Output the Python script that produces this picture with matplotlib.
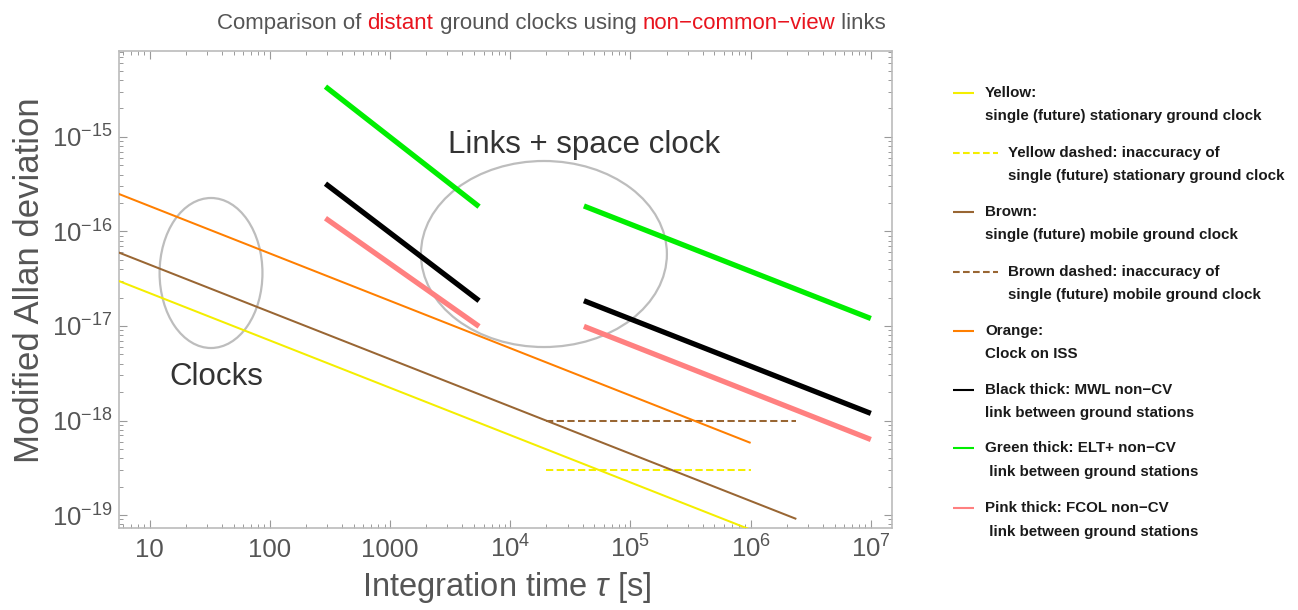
import matplotlib
matplotlib.use("Agg")
import matplotlib.pyplot as plt
from matplotlib.lines import Line2D
from matplotlib.patches import Ellipse
from matplotlib.ticker import LogLocator, FuncFormatter, NullFormatter

plt.rcParams['font.family'] = ['Liberation Sans', 'DejaVu Sans']
plt.rcParams['mathtext.fontset'] = 'custom'
plt.rcParams['mathtext.rm'] = 'Liberation Sans'
plt.rcParams['mathtext.it'] = 'Liberation Sans:italic'
plt.rcParams['mathtext.bf'] = 'Liberation Sans:bold'

# ---------------- data ----------------
tau_yellow = [5.5, 1.0e6]
sigma_yellow = [3.0e-17, 7.0e-20]
tau_yellow_dashed = [2.0e4, 1.0e6]
sigma_yellow_dashed = [3.0e-19, 3.0e-19]
tau_brown = [5.5, 2.4e6]
sigma_brown = [6.0e-17, 9.1e-20]
tau_brown_dashed = [2.0e4, 2.4e6]
sigma_brown_dashed = [1.0e-18, 1.0e-18]
tau_orange = [5.5, 1.0e6]
sigma_orange = [2.5e-16, 5.8e-19]

tau_link_short = [290, 5500]
tau_link_long = [4.1e4, 1.0e7]
sigma_black_short = [3.2e-16, 1.85e-17]
sigma_black_long = [1.85e-17, 1.19e-18]
sigma_green_short = [3.4e-15, 1.83e-16]
sigma_green_long = [1.86e-16, 1.2e-17]
sigma_pink_short = [1.38e-16, 9.9e-18]
sigma_pink_long = [9.9e-18, 6.3e-19]

x_major_ticks = [10, 100, 1000, 1e4, 1e5, 1e6, 1e7]
y_major_ticks = [1e-19, 1e-18, 1e-17, 1e-16, 1e-15]

legend_first = ["Yellow:", "Yellow dashed: inaccuracy of", "Brown:",
                "Brown dashed: inaccuracy of", "Orange:",
                "Black thick: MWL non\u2212CV", "Green thick: ELT+ non\u2212CV",
                "Pink thick: FCOL non\u2212CV"]
legend_second = ["single (future) stationary ground clock",
                 "single (future) stationary ground clock",
                 "single (future) mobile ground clock",
                 "single (future) mobile ground clock",
                 "Clock on ISS",
                 "link between ground stations",
                 " link between ground stations",
                 " link between ground stations"]

# ---------------- styles ----------------
YELLOW = '#F4EE00'
BROWN = '#996633'
ORANGE = '#FF7F00'
BLACK = '#000000'
GREEN = '#00EE00'
PINK = '#FF8080'
GRAY_TXT = '#555555'
RED = '#E8141E'
ELL = '#BDBDBD'

W, H = 1298, 610
fig = plt.figure(figsize=(W / 100, H / 100), dpi=100)
ax = fig.add_axes([0.0913, 0.1344, 0.5959, 0.782])

thin = 1.45
thick = 3.8
dash = (3.6, 1.7)

ax.plot(tau_yellow, sigma_yellow, color=YELLOW, lw=thin, solid_capstyle='butt', zorder=3)
ax.plot(tau_yellow_dashed, sigma_yellow_dashed, color=YELLOW, lw=thin, dashes=dash, zorder=3)
ax.plot(tau_brown, sigma_brown, color=BROWN, lw=thin, solid_capstyle='butt', zorder=3)
ax.plot(tau_brown_dashed, sigma_brown_dashed, color=BROWN, lw=thin, dashes=dash, zorder=3)
ax.plot(tau_orange, sigma_orange, color=ORANGE, lw=thin, solid_capstyle='butt', zorder=3)
for s_short, s_long, c in [(sigma_green_short, sigma_green_long, GREEN),
                           (sigma_black_short, sigma_black_long, BLACK),
                           (sigma_pink_short, sigma_pink_long, PINK)]:
    ax.plot(tau_link_short, s_short, color=c, lw=thick, solid_capstyle='butt', zorder=4)
    ax.plot(tau_link_long, s_long, color=c, lw=thick, solid_capstyle='butt', zorder=4)

ax.set_xscale('log')
ax.set_yscale('log')

# ellipses (annotations, axes fraction)
ax.add_patch(Ellipse((0.1196, 0.5346), 0.133, 0.3145, transform=ax.transAxes,
                     fill=False, ec=ELL, lw=1.6, zorder=2))
ax.add_patch(Ellipse((0.550, 0.5744), 0.318, 0.39, transform=ax.transAxes,
                     fill=False, ec=ELL, lw=1.6, zorder=2))
ax.text(0.6025, 0.786, "Links + space clock", transform=ax.transAxes, ha='center',
        va='baseline', fontsize=22.5, color='#333333')
ax.text(0.1267, 0.2998, "Clocks", transform=ax.transAxes, ha='center',
        va='baseline', fontsize=22.5, color='#333333')

# ticks
def xfmt(v, pos):
    import math
    e = int(round(math.log10(v)))
    if e <= 3:
        return str(int(round(v)))
    return r'$\mathregular{10^{%d}}$' % e

def yfmt(v, pos):
    import math
    e = int(round(math.log10(v)))
    return r'$\mathregular{10^{%d}}$' % e

ax.set_xticks(x_major_ticks)
ax.set_yticks(y_major_ticks)
ax.xaxis.set_major_formatter(FuncFormatter(xfmt))
ax.yaxis.set_major_formatter(FuncFormatter(yfmt))
ax.xaxis.set_minor_locator(LogLocator(base=10, subs=range(2, 10), numticks=30))
ax.yaxis.set_minor_locator(LogLocator(base=10, subs=range(2, 10), numticks=30))
ax.xaxis.set_minor_formatter(NullFormatter())
ax.yaxis.set_minor_formatter(NullFormatter())
ax.set_xlim(5.5, 1.5e7)
ax.set_ylim(7.3e-20, 8.1e-15)

ax.tick_params(which='both', direction='in', top=True, right=True,
               colors='#9a9a9a', labelcolor=GRAY_TXT, labelsize=18.5)
ax.tick_params(which='major', length=5.5, width=0.8)
ax.tick_params(which='minor', length=3.0, width=0.7)
ax.tick_params(axis='x', which='major', pad=21)
ax.tick_params(axis='y', which='major', pad=4.5)
for lab in ax.get_xticklabels():
    lab.set_va('baseline')
for sp in ax.spines.values():
    sp.set_color('#BBBBBB')
    sp.set_linewidth(1.2)

ax.set_xlabel(r"Integration time $\mathit{\tau}$ [s]", fontsize=23.5, color=GRAY_TXT)
ax.xaxis.label.set_va('baseline')
ax.xaxis.set_label_coords(0.502, -0.1426)
ax.set_ylabel("Modified Allan deviation", fontsize=25, color=GRAY_TXT)
ax.yaxis.label.set_va('baseline')
ax.yaxis.set_label_coords(-0.103, 0.52)

# multicolor title
parts = [("Comparison of ", GRAY_TXT), ("distant", RED), (" ground clocks using ", GRAY_TXT),
         ("non\u2212common\u2212view", RED), (" links", GRAY_TXT)]
first = fig.text(0.2, 1 - 34 / H, parts[0][0], color=parts[0][1], fontsize=16,
                 ha='left', va='bottom')
texts = [first]
prev = first
for s, c in parts[1:]:
    t = ax.annotate(s, xy=(1, 0), xycoords=prev, va='bottom', ha='left',
                    color=c, fontsize=16, annotation_clip=False)
    texts.append(t)
    prev = t

# legend (manual, Mathematica-like)
legend_styles = [(YELLOW, False), (YELLOW, True), (BROWN, False), (BROWN, True),
                 (ORANGE, False), (BLACK, False), (GREEN, False), (PINK, False)]
legend_y = [92.7, 152.7, 211.7, 271.7, 331, 390, 448.3, 508.3]
for (c, dashed), y, l1, l2 in zip(legend_styles, legend_y, legend_first, legend_second):
    x1 = 998 if dashed else 974
    ln = Line2D([953 / W, x1 / W], [1 - y / H, 1 - y / H], transform=fig.transFigure,
                color=c, lw=1.5, solid_capstyle='butt')
    if dashed:
        ln.set_dashes((3.2, 1.6))
    fig.add_artist(ln)
    tx = (1008 if dashed else 985) / W
    fig.text(tx, 1 - y / H, l1, fontsize=10.9, fontweight='bold', color='#1a1a1a',
             ha='left', va='center')
    fig.text(tx, 1 - (y + 23.5) / H, l2, fontsize=10.9, fontweight='bold', color='#1a1a1a',
             ha='left', va='center')

fig.canvas.draw()
r = fig.canvas.get_renderer()
x0 = texts[0].get_window_extent(r).x0
x1 = texts[-1].get_window_extent(r).x1
width = x1 - x0
texts[0].set_x((551.5 - width / 2) / W)

fig.savefig("out.png", dpi=100, facecolor='white')
